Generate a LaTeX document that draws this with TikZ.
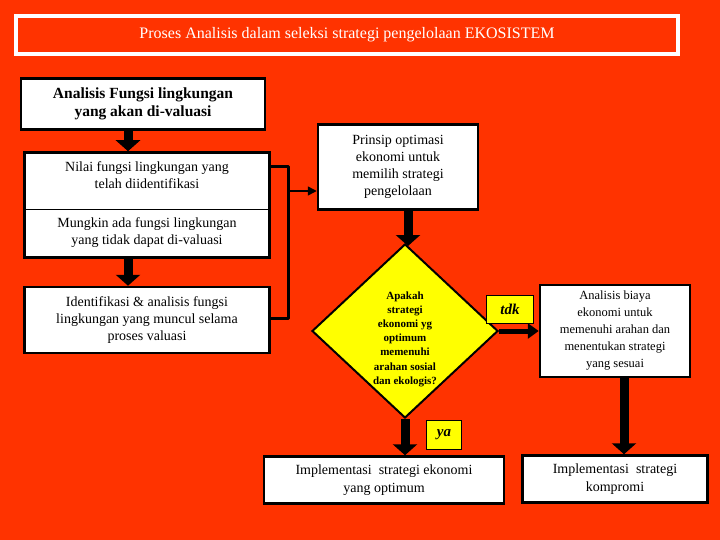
\documentclass[tikz,border=0pt]{standalone}
\usepackage{fontspec}
\setmainfont{Liberation Serif}
\usetikzlibrary{arrows.meta,shapes.geometric}
\definecolor{bg}{HTML}{FF3300}
\definecolor{yel}{HTML}{FFFF00}
\begin{document}
\begin{tikzpicture}[x=1pt,y=-1pt,
  box/.style={draw=black,line width=2.5pt,fill=white,inner sep=0pt},
  fat/.style={line width=9pt,-{Triangle[width=24pt,length=11pt]}},
  thin/.style={line width=3pt},
  lab/.style={draw=black,line width=0.6pt,fill=yel,font=\bfseries\itshape\fontsize{15}{15}\selectfont,inner sep=0pt}]
\fill[bg] (0,0) rectangle (720,540);
\useasboundingbox (0,0) rectangle (720,540);
% title
\node[draw=white,line width=4pt,fill=bg,minimum width=662pt,minimum height=38pt,text=white,font=\fontsize{16}{16}\selectfont] (title) at (347,35) {Proses Analisis dalam seleksi strategi pengelolaan EKOSISTEM};
% left boxes
\node[box,minimum width=244pt,minimum height=51pt,align=center,font=\bfseries\fontsize{15.5}{18}\selectfont] (A) at (143,104) {Analisis Fungsi lingkungan\\yang akan di-valuasi};
\node[box,minimum width=245pt,minimum height=105pt] (B) at (147,205) {};
\draw[line width=1pt] (B.west |- 0,210) -- (B.east |- 0,210);
\node[align=center,font=\fontsize{14}{17}\selectfont] (B1) at (147,175) {Nilai fungsi lingkungan yang\\telah diidentifikasi};
\node[align=center,font=\fontsize{14}{17}\selectfont] (B2) at (147,233) {Mungkin ada fungsi lingkungan\\yang tidak dapat di-valuasi};
\node[box,minimum width=245pt,minimum height=66pt,align=center,font=\fontsize{14}{17}\selectfont] (C) at (147,320) {Identifikasi \& analisis fungsi\\lingkungan yang muncul selama\\proses valuasi};
\draw[fat] (A.south -| 128,0) -- (B.north -| 128,0);
\draw[fat] (B.south -| 128,0) -- (C.north -| 128,0);
% Prinsip
\node[box,minimum width=160pt,minimum height=85pt,align=center,font=\fontsize{14}{17}\selectfont] (P) at (398,167) {Prinsip optimasi\\ekonomi untuk\\memilih strategi\\pengelolaan};
\coordinate (j1) at (288,167);
\coordinate (j2) at (288,318);
\draw[thin,line join=round] (B.east |- j1) -- (j1) -- (j2) -- (C.east |- j2);
\coordinate (j3) at (288,191);
\draw[line width=1.5pt,-{Triangle[width=9pt,length=9pt]}] (j3) -- (P.west |- j3);
% diamond
\node[diamond,draw=black,line width=2pt,fill=yel,minimum width=186pt,minimum height=174pt,inner sep=0pt] (D) at (405,331) {};
\node[align=center,font=\bfseries\fontsize{11}{14.2}\selectfont] (Dt) at (405,339) {Apakah\\strategi\\ekonomi yg\\optimum\\memenuhi\\arahan sosial\\dan ekologis?};
\draw[fat] (P.south -| 408,0) -- (408,246);
% right
\node[box,minimum width=150pt,minimum height=92pt,align=center,font=\bfseries\fontsize{12.5}{17}\selectfont] (R) at (615,331) {\mdseries Analisis biaya\\\mdseries ekonomi untuk\\\mdseries memenuhi arahan dan\\\mdseries menentukan strategi\\\mdseries yang sesuai};
\draw[line width=5pt,-{Triangle[width=15pt,length=11pt]}] (D.east) -- (R.west);
\node[lab,minimum width=47pt,minimum height=28pt] (tdk) at (510,309) {tdk};
% bottom
\node[box,minimum width=240pt,minimum height=47pt,align=center,font=\fontsize{14}{18}\selectfont] (I) at (384,480) {Implementasi\ \ strategi ekonomi\\yang optimum};
\node[box,minimum width=185pt,minimum height=47pt,align=center,font=\fontsize{14}{18}\selectfont] (K) at (615,479) {Implementasi\ \ strategi\\kompromi};
\draw[fat] (D.south) -- (I.north -| D.south);
\draw[fat] (R.south -| 624,0) -- (K.north -| 624,0);
\node[lab,minimum width=35pt,minimum height=29pt] (ya) at (444,435) {ya};
\end{tikzpicture}
\end{document}
